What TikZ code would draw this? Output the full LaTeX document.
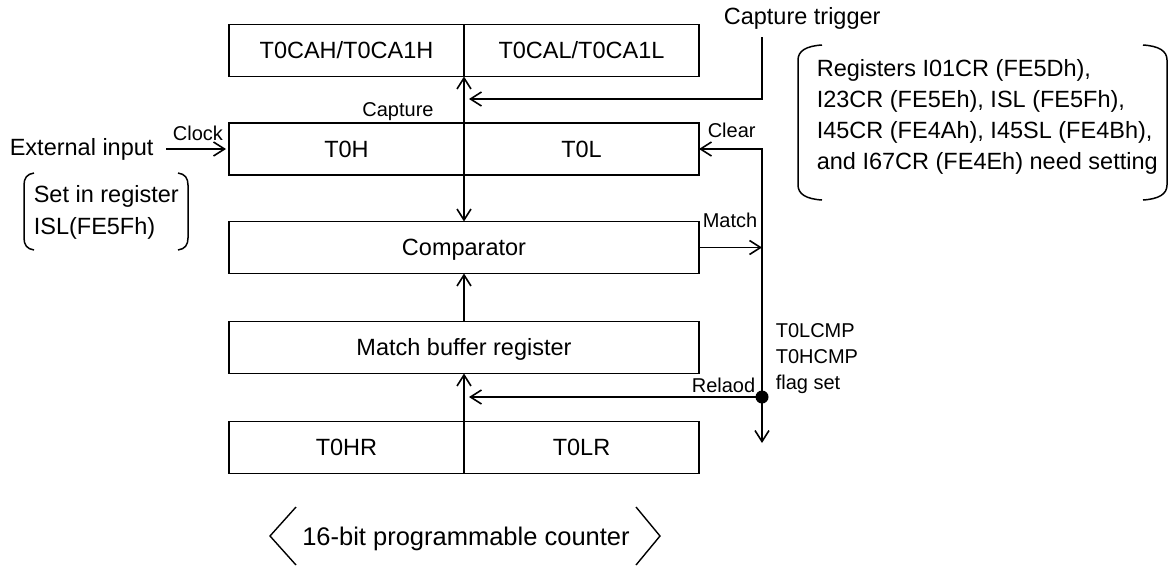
\documentclass[tikz,border=0pt]{standalone}
\usepackage{fontspec}
\setmainfont{Liberation Sans}
\usetikzlibrary{arrows.meta}
\begin{document}
\begin{tikzpicture}[x=1pt,y=-1pt,
  line width=1.6pt,
  regbox/.style={draw, rectangle, outer sep=0pt, inner sep=0pt, minimum height=52pt,
    font=\fontsize{23.5}{28}\selectfont, text height=16.8pt, text depth=0pt},
  half/.style={regbox, minimum width=235pt},
  full/.style={regbox, minimum width=470pt},
  big/.style={font=\fontsize{23.5}{28}\selectfont, inner sep=0pt},
  small/.style={font=\fontsize{20}{24}\selectfont, inner sep=0pt},
  arr/.style={-{Straight Barb[length=11pt,width=14pt]}},
  arrboth/.style={{Straight Barb[length=11pt,width=14pt]}-{Straight Barb[length=11pt,width=14pt]}},
  bracketline/.style={line width=1.5pt}
]
\useasboundingbox (0,0) rectangle (1170,565);

% register blocks
\node[half] (cah) at (346.5,50.5) {T0CAH/T0CA1H};
\node[half] (cal) at (581.5,50.5) {T0CAL/T0CA1L};
\node[half] (th)  at (346.5,149) {T0H};
\node[half] (tl)  at (581.5,149) {T0L};
\node[full] (comp) at (464,247.5) {Comparator};
\node[full] (mbr)  at (464,347.5) {Match buffer register};
\node[half] (thr) at (346.5,447.5) {T0HR};
\node[half] (tlr) at (581.5,447.5) {T0LR};

% bend points and free ends
\coordinate (trigtop)  at (762,37);
\coordinate (trigbend) at (762,99);
\coordinate (captip)   at (469,99);
\coordinate (clrbend)  at (762,149);
\coordinate (flagend)  at (762,443);
\coordinate (reltip)   at (469,397);
\coordinate (clkstart) at (166,149);
\node[circle, fill, inner sep=0pt, minimum size=13pt] (dot) at (762,397) {};

% connectors
\draw[arr] (trigtop) -- (trigbend) -- (captip);
\draw[arrboth] (cah.south east) -- (comp.north);
\draw[arr] (mbr.north) -- (comp.south);
\draw[arr] (thr.north east) -- (mbr.south);
\draw[arr] (comp.east) -- (comp.east -| dot);
\draw[arr] (dot.center) -- (clrbend) -- (tl.east);
\draw[arr] (dot.center) -- (flagend);
\draw[arr] (dot.center) -- (reltip);
\draw[arr, shorten >=3pt] (clkstart) -- (th.west);

% labels
\node[big, anchor=base west] (trig) at (723,24) {Capture trigger};
\node[small, anchor=base] (caplbl) at (398,116) {Capture};
\node[small, anchor=base] (clk) at (198,140) {Clock};
\node[big, anchor=base west] (ext) at (9,155) {External input};
\node[big, anchor=base west] (isl1) at (33,202) {Set in register};
\node[big, anchor=base west] (isl2) at (33,234) {ISL(FE5Fh)};
\node[small, anchor=base west] (clr) at (707,137) {Clear};
\node[small, anchor=base west] (mat) at (702,227) {Match};
\node[small, anchor=base east] (rel) at (756,392) {Relaod};
\node[small, anchor=base west] (f1) at (775,337) {T0LCMP};
\node[small, anchor=base west] (f2) at (775,363) {T0HCMP};
\node[small, anchor=base west] (f3) at (775,389) {flag set};
\node[big, anchor=base west] (r1) at (816,76)  {Registers I01CR (FE5Dh),};
\node[big, anchor=base west] (r2) at (816,107) {I23CR (FE5Eh), ISL (FE5Fh),};
\node[big, anchor=base west] (r3) at (816,138) {I45CR (FE4Ah), I45SL (FE4Bh),};
\node[big, anchor=base west] (r4) at (816,169) {and I67CR (FE4Eh) need setting};
\node[font=\fontsize{25.5}{30}\selectfont, inner sep=0pt, anchor=base] (cnt) at (466,545) {16-bit programmable counter};

% brackets round the setting notes
\draw[bracketline] (34,173) .. controls (27,174) and (24,178) .. (24,185) -- (24,238)
  .. controls (24,245) and (27,249) .. (34,250);
\draw[bracketline] (178,173) .. controls (185,174) and (188,178) .. (188,185) -- (188,238)
  .. controls (188,245) and (185,249) .. (178,250);
\draw[bracketline] (822,45) .. controls (806,46) and (798,51) .. (798,60) -- (798,185)
  .. controls (798,194) and (806,199) .. (822,200);
\draw[bracketline] (1143,45) .. controls (1159,46) and (1167,51) .. (1167,60) -- (1167,185)
  .. controls (1167,194) and (1159,199) .. (1143,200);

% angle brackets round the counter caption
\draw[line width=1.4pt] (296,507) -- (270,536) -- (296,565);
\draw[line width=1.4pt] (636,507) -- (660,536) -- (636,565);
\end{tikzpicture}
\end{document}
